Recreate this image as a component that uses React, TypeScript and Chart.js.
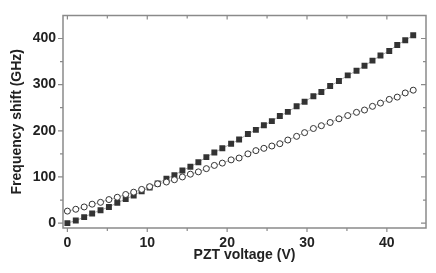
import React, { useEffect, useRef } from "react";
import { Chart, registerables } from "chart.js";

Chart.register(...registerables);

const voltage = [0, 1.05, 2.1, 3.1, 4.15, 5.2, 6.25, 7.3, 8.3, 9.3, 10.3, 11.3, 12.4, 13.4, 14.4, 15.4, 16.4, 17.4, 18.4, 19.4, 20.5, 21.5, 22.6, 23.6, 24.6, 25.6, 26.6, 27.6, 28.7, 29.7, 30.8, 31.8, 32.9, 34.0, 35.1, 36.2, 37.2, 38.2, 39.2, 40.3, 41.3, 42.3, 43.3];
const squareShift = [0, 5.5, 13, 21, 28, 35, 44, 52, 60, 69, 77, 86, 96, 104, 114, 122, 132, 143, 153, 162, 172, 181, 193, 202, 212, 221, 232, 241, 253, 263, 275, 284, 297, 308, 320, 330, 341, 352, 363, 373, 386, 396, 407];
const circleShift = [26, 30, 35, 41, 45, 51, 56, 62, 67, 73, 79, 85, 89, 94, 100, 106, 111, 118, 125, 130, 137, 141, 150, 157, 162, 167, 172, 180, 188, 196, 205, 211, 218, 226, 233, 240, 245, 253, 260, 268, 273, 282, 288];

const xTickValues = [0, 5, 10, 15, 20, 25, 30, 35, 40];
const xLabeledTicks = [0, 10, 20, 30, 40];
const yTickValues = [0, 50, 100, 150, 200, 250, 300, 350, 400];
const yLabeledTicks = [0, 100, 200, 300, 400];

const xTitle = "PZT voltage (V)";
const yTitle = "Frequency shift (GHz)";

const AXIS_COLOR = "#8a8a8a";
const TEXT_COLOR = "#222222";
const FONT_FAMILY = "'Liberation Sans', Arial, Helvetica, sans-serif";

const framePlugin = {
  id: "frameTicks",
  beforeDatasetsDraw(chart: any) {
    const { ctx, chartArea } = chart;
    const xs = chart.scales.x;
    const ys = chart.scales.y;
    const { left, right, top, bottom } = chartArea;
    ctx.save();
    ctx.strokeStyle = AXIS_COLOR;
    ctx.lineWidth = 1.5;
    ctx.beginPath();
    ctx.rect(left, top, right - left, bottom - top);
    ctx.stroke();
    ctx.lineWidth = 1.2;
    ctx.beginPath();
    for (const v of xTickValues) {
      const px = xs.getPixelForValue(v);
      const major = xLabeledTicks.includes(v);
      const len = major ? 4 : 3;
      ctx.moveTo(px, bottom);
      ctx.lineTo(px, bottom + len);
      ctx.moveTo(px, top);
      ctx.lineTo(px, top + len);
    }
    for (const v of yTickValues) {
      const py = ys.getPixelForValue(v);
      const major = yLabeledTicks.includes(v);
      const len = major ? 5 : 3;
      ctx.moveTo(left, py);
      ctx.lineTo(left - len, py);
      ctx.moveTo(right, py);
      ctx.lineTo(right - len, py);
    }
    ctx.stroke();
    ctx.restore();
  },
};

export default function App() {
  const canvasRef = useRef<HTMLCanvasElement | null>(null);

  useEffect(() => {
    const canvas = canvasRef.current;
    if (!canvas) return;
    const squares = voltage.map((v, i) => ({ x: v, y: squareShift[i] }));
    const circles = voltage.map((v, i) => ({ x: v, y: circleShift[i] }));
    const chart = new Chart(canvas, {
      type: "scatter",
      data: {
        datasets: [
          {
            label: "circles",
            data: circles,
            showLine: true,
            borderColor: "#9a9a9a",
            borderWidth: 0.8,
            pointStyle: "circle",
            pointRadius: 3,
            pointBorderWidth: 1,
            pointBorderColor: "#333333",
            pointBackgroundColor: "#ffffff",
          },
          {
            label: "squares",
            data: squares,
            showLine: true,
            borderColor: "#9a9a9a",
            borderWidth: 0.8,
            pointStyle: "rect",
            pointRadius: 4.2,
            pointBorderWidth: 0,
            pointBorderColor: "#333333",
            pointBackgroundColor: "#333333",
          },
        ],
      },
      options: {
        responsive: false,
        animation: false,
        layout: { padding: { left: 0, right: 10, top: 9, bottom: 0 } },
        plugins: {
          legend: { display: false },
          tooltip: { enabled: false },
        },
        scales: {
          x: {
            type: "linear",
            min: -0.55,
            max: 44.9,
            grid: { display: false, drawTicks: false, tickLength: 0 },
            border: { display: false },
            afterBuildTicks: (scale: any) => {
              scale.ticks = xLabeledTicks.map((v) => ({ value: v }));
            },
            afterFit: (scale: any) => {
              scale.height = 45;
            },
            ticks: {
              padding: 7,
              color: TEXT_COLOR,
              font: { family: FONT_FAMILY, size: 14, weight: "bold" },
              maxRotation: 0,
              autoSkip: false,
            },
            title: {
              display: true,
              text: xTitle,
              color: TEXT_COLOR,
              font: { family: FONT_FAMILY, size: 14, weight: "bold" },
              padding: { top: 0, bottom: 9 },
            },
          },
          y: {
            type: "linear",
            min: -10.6,
            max: 450,
            grid: { display: false, drawTicks: false, tickLength: 0 },
            border: { display: false },
            afterBuildTicks: (scale: any) => {
              scale.ticks = yLabeledTicks.map((v) => ({ value: v }));
            },
            afterFit: (scale: any) => {
              scale.width = 63;
            },
            ticks: {
              padding: 7,
              color: TEXT_COLOR,
              font: { family: FONT_FAMILY, size: 14, weight: "bold" },
              autoSkip: false,
            },
            title: {
              display: true,
              text: yTitle,
              color: TEXT_COLOR,
              font: { family: FONT_FAMILY, size: 14, weight: "bold" },
              padding: { top: 8.5, bottom: 0 },
            },
          },
        },
      },
      plugins: [framePlugin],
    });
    return () => chart.destroy();
  }, []);

  return (
    <div style={{ position: "fixed", left: 0, top: 0, width: 436, height: 273, background: "#ffffff" }}>
      <canvas ref={canvasRef} width={436} height={273} style={{ width: 436, height: 273, display: "block" }} />
    </div>
  );
}
